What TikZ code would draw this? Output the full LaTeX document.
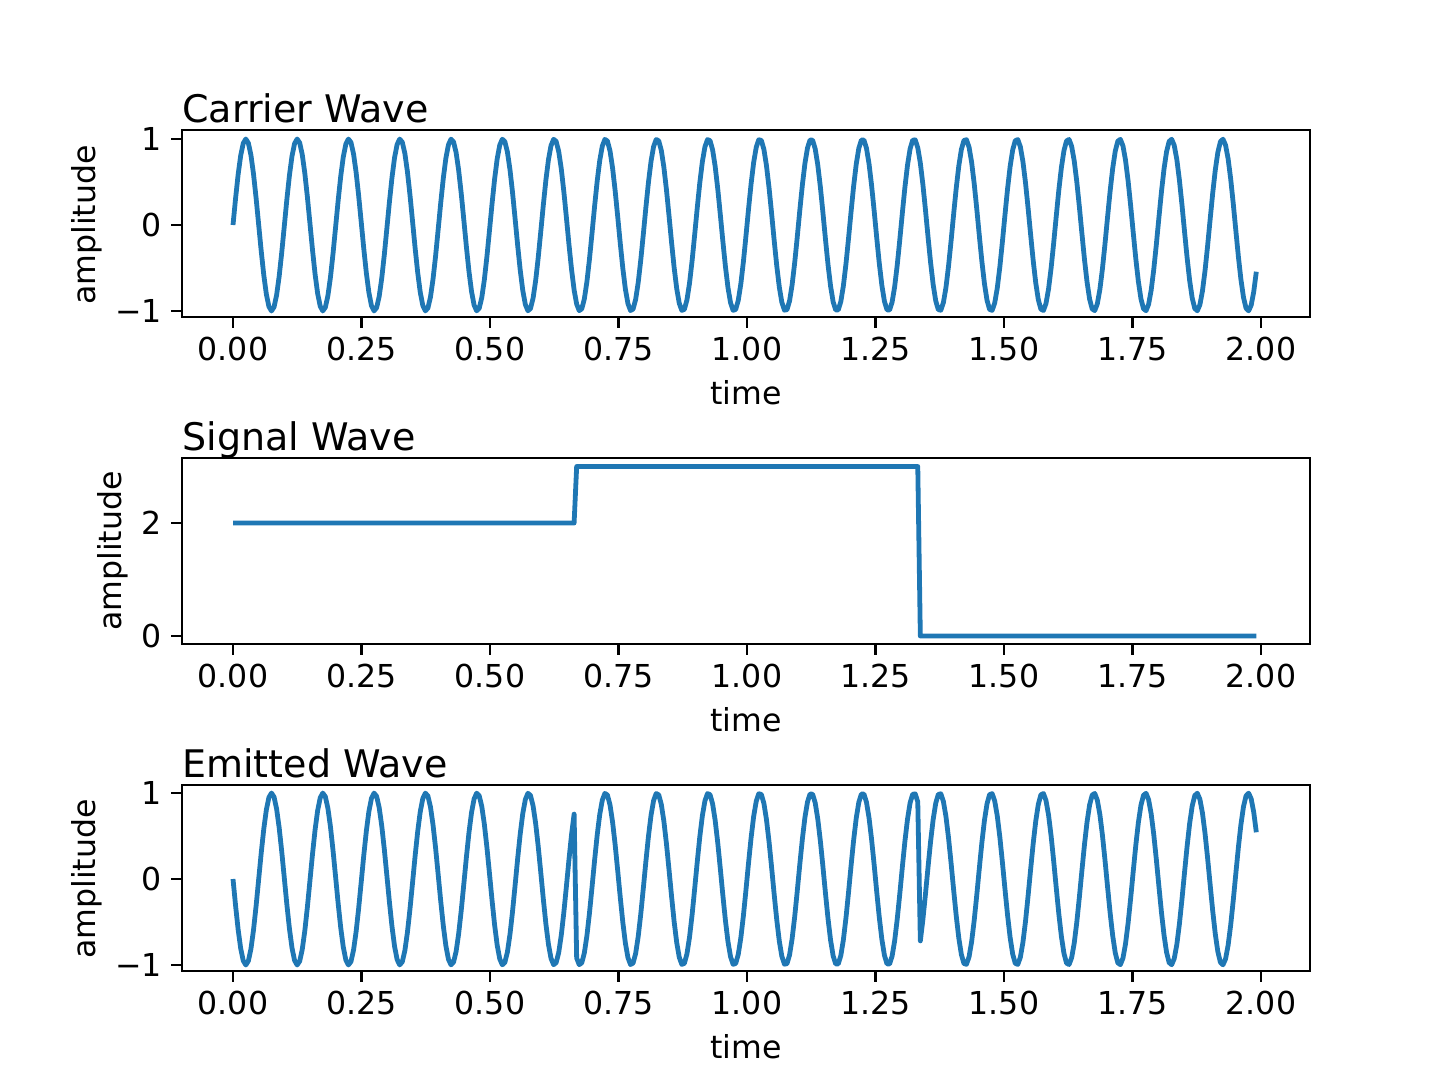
\documentclass[tikz,border=0pt]{standalone}
\usepackage{fontspec}
\setmainfont{DejaVu Sans}
\definecolor{mplblue}{HTML}{1F77B4}
\begin{document}
\begin{tikzpicture}[x=0.5pt,y=-0.5pt,
  axbox/.style={draw=black,line width=1.26pt},
  tick/.style={line width=1.26pt},
  ticklab/.style={font=\fontsize{15.8}{18}\selectfont,inner sep=0pt},
  titl/.style={font=\fontsize{19}{22}\selectfont,anchor=base west,inner sep=0pt},
  dataline/.style={draw=mplblue,line width=2.4pt,line join=round}]
\useasboundingbox (0,0) rectangle (1456,1092);
% panels: top, bottom
\foreach \top/\bot/\nm in {130/317/a,458/644/b,785/971/c}{
  \draw[axbox] (182,\top) rectangle (1310,\bot);
  \foreach \t/\lab in {0/0.00,0.25/0.25,0.5/0.50,0.75/0.75,1/1.00,1.25/1.25,1.5/1.50,1.75/1.75,2/2.00}{
    \draw[tick] ({233+514*\t},\bot) -- ({233+514*\t},\bot+11);
    \node[ticklab,anchor=north] (xt\nm\lab) at ({233+514*\t},\bot+20) {\lab};
  }
  \node[ticklab,anchor=north] (xl\nm) at (746,\bot+63) {time};
}
% y ticks panel 1 and 3
\foreach \z/\nm in {225/a,879/c}{
  \foreach \v/\lab in {1/1,0/0,-1/−1}{
    \draw[tick] (182,{\z-86*\v}) -- (171,{\z-86*\v});
    \node[ticklab,anchor=east] (yt\nm\v) at (162,{\z-86*\v}) {\lab};
  }
  \node[ticklab,rotate=90] (yl\nm) at (87,\z) {amplitude};
}
\foreach \v in {0,2}{
  \draw[tick] (182,{636-56.5*\v}) -- (171,{636-56.5*\v});
  \node[ticklab,anchor=east] (ytb\v) at (162,{636-56.5*\v}) {\v};
}
\node[ticklab,rotate=90] (ylb) at (113,551) {amplitude};
% titles
\node[titl] (ta) at (182,122) {Carrier Wave};
\node[titl] (tb) at (182,450) {Signal Wave};
\node[titl] (tc) at (182,777) {Emitted Wave};
% data
\draw[dataline] plot[domain=0:1.995,samples=400,variable=\t] ({233+514*\t},{225-86*sin(3600*\t)});
\draw[dataline] plot[domain=0:1.995,samples=400,variable=\t] ({233+514*\t},{636-56.5*(2+and(\t>0.6667,\t<1.3333)-2*(\t>1.3333))});
\draw[dataline] plot[domain=0:1.995,samples=400,variable=\t] ({233+514*\t},{879-86*(2*and(\t>0.6667,\t<1.3333)-1)*sin(3600*\t)});
\end{tikzpicture}
\end{document}
